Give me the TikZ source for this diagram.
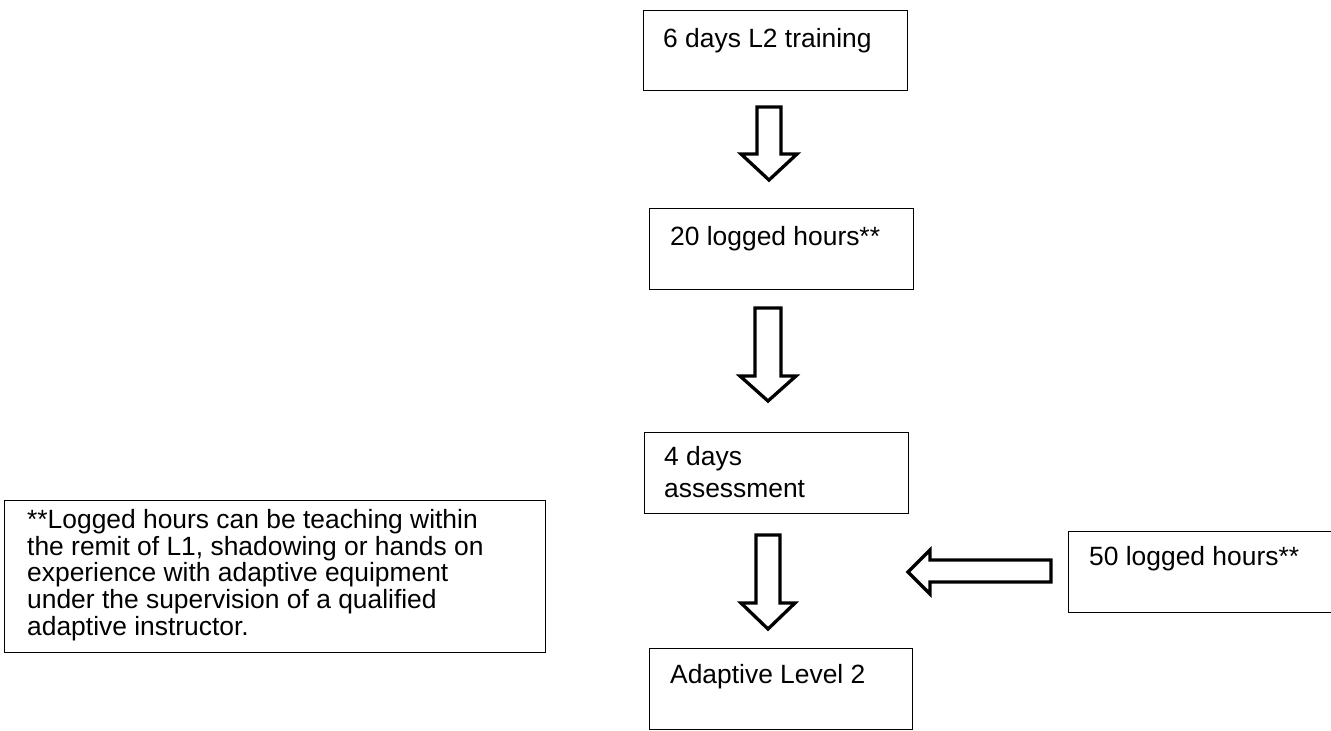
\documentclass[tikz,border=0pt]{standalone}
\usepackage{fontspec}
\setmainfont{Liberation Sans}
\begin{document}
\begin{tikzpicture}[x=1pt,y=-1pt,
  stepbox/.style={draw, line width=1.3pt, anchor=north west, inner sep=0pt},
  lbl/.style={anchor=base west, inner sep=0pt, font=\fontsize{26.4}{26.75}\selectfont},
  para/.style={anchor=north west, inner sep=0pt, align=left},
  blockarrow/.style={draw, line width=3.3pt, line join=miter, fill=white}]
\useasboundingbox (0,0) rectangle (1331,731);

% step boxes
\node[stepbox, minimum width=264pt, minimum height=80pt] (train) at (643,10) {};
\node[lbl] (trainlbl) at (663,47) {6 days L2 training};

\node[stepbox, minimum width=264pt, minimum height=81pt] (hours20) at (649,208) {};
\node[lbl] (hours20lbl) at (670,245) {20 logged hours**};

\node[stepbox, minimum width=264pt, minimum height=81pt] (assess) at (644,432) {};
\node[para, font=\fontsize{26.4}{32}\selectfont] (assesslbl) at (664,446) {4 days\\assessment};

\node[stepbox, minimum width=263pt, minimum height=81pt] (level2) at (649,648) {};
\node[lbl] (level2lbl) at (670,683) {Adaptive Level 2};

\node[stepbox, minimum width=270pt, minimum height=81pt] (hours50) at (1068,531) {};
\node[lbl] (hours50lbl) at (1089,565) {50 logged hours**};

% footnote box
\node[stepbox, minimum width=541pt, minimum height=152pt] (note) at (4,500) {};
\node[para, font=\fontsize{26.4}{26.75}\selectfont] (notetext) at (27,509)
  {**Logged hours can be teaching within\\
   the remit of L1, shadowing or hands on\\
   experience with adaptive equipment\\
   under the supervision of a qualified\\
   adaptive instructor.};

% hollow block arrows
\draw[blockarrow] (757,107) -- (781,107) -- (781,154) -- (797,154) -- (769,180)
  -- (741,154) -- (757,154) -- cycle;
\draw[blockarrow] (755,308) -- (781,308) -- (781,376) -- (796,376) -- (768,401)
  -- (740,376) -- (755,376) -- cycle;
\draw[blockarrow] (756,535) -- (780,535) -- (780,603) -- (795,603) -- (768,629)
  -- (741,603) -- (756,603) -- cycle;
\draw[blockarrow] (1051,560) -- (1051,582) -- (930,582) -- (930,594) -- (908,572)
  -- (930,550) -- (930,560) -- cycle;
\end{tikzpicture}
\end{document}
